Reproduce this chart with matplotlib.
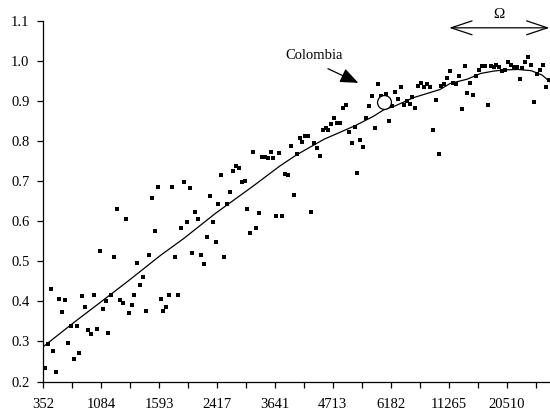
import matplotlib

matplotlib.use("Agg")
import matplotlib.pyplot as plt
import numpy as np

plt.rcParams["font.family"] = ["Liberation Serif", "DejaVu Serif"]

# one value per country, ordered by income (category axis)
share = [
    0.234, 0.293, 0.430, 0.277, 0.224, 0.407, 0.374, 0.403, 0.296, 0.338,
    0.257, 0.338, 0.270, 0.413, 0.387, 0.328, 0.319, 0.416, 0.332, 0.527,
    0.381, 0.400, 0.322, 0.417, 0.510, 0.631, 0.403, 0.397, 0.605, 0.371,
    0.390, 0.416, 0.497, 0.442, 0.461, 0.377, 0.517, 0.659, 0.575, 0.686,
    0.407, 0.377, 0.387, 0.416, 0.686, 0.510, 0.416, 0.582, 0.698, 0.598,
    0.683, 0.520, 0.624, 0.605, 0.517, 0.493, 0.562, 0.663, 0.598, 0.549,
    0.643, 0.715, 0.511, 0.642, 0.672, 0.725, 0.737, 0.734, 0.698, 0.700,
    0.631, 0.572, 0.773, 0.583, 0.621, 0.760, 0.760, 0.757, 0.773, 0.757,
    0.614, 0.770, 0.614, 0.718, 0.715, 0.787, 0.666, 0.767, 0.808, 0.799,
    0.812, 0.812, 0.623, 0.796, 0.782, 0.763, 0.828, 0.832, 0.828, 0.842,
    0.857, 0.845, 0.845, 0.883, 0.891, 0.822, 0.796, 0.835, 0.721, 0.802,
    0.786, 0.857, 0.887, 0.913, 0.832, 0.942, 0.913, 0.897, 0.919, 0.851,
    0.887, 0.922, 0.906, 0.936, 0.890, 0.900, 0.893, 0.910, 0.883, 0.939,
    0.946, 0.936, 0.942, 0.936, 0.827, 0.902, 0.767, 0.939, 0.942, 0.958,
    0.975, 0.946, 0.942, 0.962, 0.880, 0.987, 0.920, 0.946, 0.916, 0.962,
    0.978, 0.987, 0.987, 0.890, 0.987, 0.984, 0.991, 0.984, 0.975, 0.978,
    0.997, 0.991, 0.984, 0.984, 0.955, 0.982, 0.997, 1.011, 0.991, 0.897,
    0.968, 0.978, 0.991, 0.936, 0.952,
]
income_labels = ["352", "1084", "1593", "2417", "3641", "4713", "6182", "11265", "20510"]

# fitted curve, read at a few ranks
curve_rank = [-0.5, 10, 20, 29, 40, 48, 59, 72, 81, 87, 96.5, 107, 113.5, 117,
              121, 127.5, 136.5, 140, 146, 150.5, 155, 159, 163.5, 168, 171.8, 174.5]
curve_share = [0.287, 0.347, 0.402, 0.452, 0.515, 0.557, 0.620, 0.688, 0.737, 0.766,
               0.805, 0.838, 0.862, 0.878, 0.888, 0.909, 0.929, 0.944, 0.955, 0.969,
               0.975, 0.978, 0.979, 0.976, 0.965, 0.948]

colombia = 117
omega_from, omega_to = 139.7, 174.3

fig = plt.figure(figsize=(5.5, 4.12), dpi=100)
ax = fig.add_axes([0.0787, 0.074, 0.9213, 0.875])

rank = np.arange(len(share))
ax.plot(rank, share, "s", color="black", ms=3.2, mew=0, zorder=2)
ax.plot(curve_rank, curve_share, color="black", lw=0.9, zorder=3)
ax.plot(colombia, share[colombia], "o", ms=10, mfc="white", mec="black", mew=0.9, zorder=4)

ax.text(93, 1.014, "Colombia", ha="center", va="center", fontsize=10.5)
ax.annotate("", xy=(108.3, 0.9455), xytext=(97.8, 0.981),
            arrowprops=dict(arrowstyle="-|>,head_length=1.1,head_width=0.45",
                            mutation_scale=10, color="black", lw=0.9,
                            shrinkA=0, shrinkB=0))

ax.annotate("", xy=(omega_to, 1.083), xytext=(omega_from, 1.083), annotation_clip=False,
            arrowprops=dict(arrowstyle="<->,head_length=1.5,head_width=0.5",
                            mutation_scale=10, color="black", lw=0.9,
                            shrinkA=0, shrinkB=0))
ax.text((omega_from + omega_to) / 2, 1.116, "\u03a9", ha="center", va="center",
        fontsize=11, clip_on=False)

ax.set_xlim(-0.5, len(share) - 0.5)
ax.set_ylim(0.2, 1.1)

xt = np.arange(-0.5, len(share), 10)
ax.set_xticks(xt)
ax.set_xticklabels([income_labels[k // 2] if k % 2 == 0 and k // 2 < len(income_labels) else ""
                    for k in range(len(xt))])
yt = np.arange(0.2, 1.101, 0.1)
ax.set_yticks(yt)
ax.set_yticklabels([f"{v:.1f}" for v in yt])

ax.tick_params(direction="out", length=4, width=0.9, labelsize=10.5)
ax.tick_params(axis="x", pad=8)
ax.tick_params(axis="y", pad=6)
for side in ("top", "right"):
    ax.spines[side].set_visible(False)
for side in ("left", "bottom"):
    ax.spines[side].set_linewidth(0.9)

fig.savefig("out.png", dpi=100)
